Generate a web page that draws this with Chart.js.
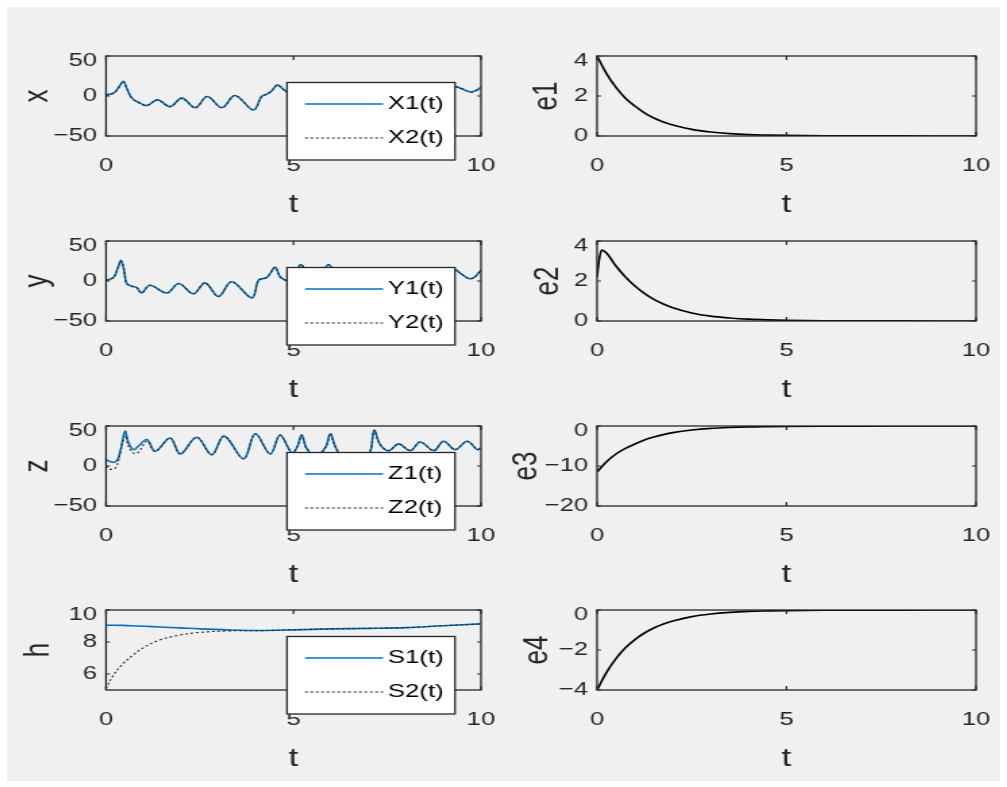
<!DOCTYPE html>
<html>
<head>
<meta charset="utf-8">
<script src="https://cdn.jsdelivr.net/npm/chart.js@4/dist/chart.umd.min.js"></script>
<style>
  html, body { margin: 0; padding: 0; background: #ffffff; }
  #fig { position: absolute; left: 7px; top: 7px; width: 993px; height: 774px; background: #f0f0f0; }
  .panel { position: absolute; }
  .panel canvas { transform-origin: 0 0; display: block; }
</style>
</head>
<body>
<div id="fig"></div>
<script>
// ---- tick labels ----
const tTicks = [0, 5, 10];
const xyzTicks = [-50, 0, 50];
const hTicks = [6, 8, 10];
const e12Ticks = [0, 2, 4];
const e3Ticks = [-20, -10, 0];
const e4Ticks = [-4, -2, 0];

// ---- x: drive (X1) and response (X2) ----
const tX = [0, 0.2, 0.33, 0.46, 0.55, 0.69, 0.91, 1.09, 1.37, 1.71, 2.02, 2.38, 2.70, 3.09, 3.44, 3.93, 4.15, 4.29, 4.42, 4.56, 4.64, 4.78,
            5.0, 5.3, 5.7, 6.0, 6.4, 6.8, 7.1, 7.5, 7.9, 8.2, 8.6, 8.9, 9.1, 9.31, 9.49, 9.72, 9.85, 10];
const X1 = [1.5, 3.6, 10, 18.4, 10, -2.7, -9, -12, -4.9, -13.3, -2.7, -14.6, -0.6, -14.6, 0.6, -17.5, -0.6, 2.3, 6.5, 14, 12, 6.5,
            1, 8, -4, 10, -6, 12, 2, 13, -3, 11, 4, 12, 13, 12, 9, 4.9, 6.5, 10.8];
const X2 = [1.0, 3.4, 10, 18.2, 10, -2.7, -9, -12, -4.9, -13.3, -2.7, -14.6, -0.6, -14.6, 0.6, -17.5, -0.6, 2.3, 6.5, 14, 12, 6.5,
            1, 8, -4, 10, -6, 12, 2, 13, -3, 11, 4, 12, 13, 12, 9, 4.9, 6.5, 10.8];

// ---- y: drive (Y1) and response (Y2) ----
const tY = [0, 0.2, 0.33, 0.40, 0.48, 0.55, 0.69, 0.82, 0.95, 1.17, 1.62, 1.94, 2.33, 2.64, 3.0, 3.35, 3.89, 4.07, 4.29, 4.51, 4.64, 4.78,
            4.95, 5.2, 5.45, 5.7, 5.93, 6.2, 6.6, 7.0, 7.4, 7.8, 8.2, 8.6, 9.0, 9.31, 9.45, 9.67, 9.82, 10];
const Y1 = [1, 4.5, 18, 25.7, 13.8, -3.2, -6.6, -8.3, -15, -5.3, -15, -3.2, -16, -2.3, -19.4, -1, -21, 1, 4.5, 17, 5.3, 1,
            -2, 20.5, 0, 2, 20.5, 3, -12, 8, -14, 6, -12, 10, 2, 13.8, 9.6, 3.2, 4.5, 13.8];
const Y2 = [0.5, 4.2, 17.5, 25.4, 13.8, -3.2, -6.6, -8.3, -15, -5.3, -15, -3.2, -16, -2.3, -19.4, -1, -21, 1, 4.5, 17, 5.3, 1,
            -2, 20.5, 0, 2, 20.5, 3, -12, 8, -14, 6, -12, 10, 2, 13.8, 9.6, 3.2, 4.5, 13.8];

// ---- z: drive (Z1) and response (Z2) ----
const tZ = [0, 0.1, 0.24, 0.33, 0.42, 0.51, 0.6, 0.73, 0.86, 1.09, 1.31, 1.71, 1.98, 2.42, 2.82, 3.15, 3.67, 3.98, 4.38, 4.64, 4.96,
            5.1, 5.22, 5.35, 5.6, 5.86, 5.98, 6.1, 6.25, 6.6, 6.85, 7.05, 7.15, 7.31, 7.54, 7.80, 8.11, 8.38, 8.74, 9.0, 9.31, 9.63, 9.9, 10];
const Z1 = [7.8, 5.7, 4.9, 10, 26.8, 43.7, 29, 20.5, 24.7, 33, 18.4, 35, 15, 36, 14, 37.3, 9, 40.3, 15, 38.6, 16.2,
            24, 38.6, 22, 12, 24, 40.3, 26, 14, 8, 6, 18.4, 44.5, 26.8, 19.2, 27.6, 19.2, 30, 19.2, 31, 20.5, 31, 20.5, 22.6];
const Z2 = [0, -4, -3, 6, 25, 38, 25, 16, 17, 31, 18.4, 35, 15, 36, 14, 37.3, 9, 40.3, 15, 38.6, 16.2,
            24, 38.6, 22, 12, 24, 40.3, 26, 14, 8, 6, 18.4, 44.5, 26.8, 19.2, 27.6, 19.2, 30, 19.2, 31, 20.5, 31, 20.5, 22.6];

// ---- h: drive (S1) and response (S2) ----
const tH = [0, 0.2, 0.42, 0.69, 1.04, 1.44, 1.98, 2.51, 3.22, 4.11, 5, 6, 7, 8, 9, 10];
const S1 = [9.05, 9.05, 9.04, 9.02, 8.98, 8.94, 8.88, 8.82, 8.76, 8.72, 8.76, 8.82, 8.85, 8.9, 9.02, 9.13];
const S2 = [5.1, 5.94, 6.56, 7.13, 7.71, 8.13, 8.44, 8.6, 8.69, 8.71, 8.76, 8.82, 8.85, 8.9, 9.02, 9.13];

// ---- synchronization errors ----
const tE = [0, 0.25, 0.5, 0.75, 1, 1.25, 1.5, 1.75, 2, 2.5, 3, 3.5, 4, 4.5, 5, 6, 7, 8, 9, 10];
const E1 = [4, 3.12, 2.43, 1.89, 1.5, 1.16, 0.9, 0.7, 0.55, 0.33, 0.2, 0.12, 0.07, 0.045, 0.027, 0.01, 0.004, 0.002, 0.001, 0];
const tE2 = [0, 0.05, 0.12, 0.25, 0.5, 0.75, 1, 1.25, 1.5, 1.75, 2, 2.5, 3, 3.5, 4, 4.5, 5, 6, 7, 8, 9, 10];
const E2 = [2.2, 3.0, 3.55, 3.4, 2.75, 2.2, 1.75, 1.38, 1.08, 0.85, 0.66, 0.4, 0.24, 0.15, 0.09, 0.055, 0.033, 0.012, 0.005, 0.002, 0.001, 0];
const E3 = [-11.5, -8.95, -7.0, -5.6, -4.5, -3.5, -2.75, -2.15, -1.65, -1.0, -0.6, -0.37, -0.22, -0.14, -0.08, -0.03, -0.01, -0.005, -0.002, 0];
const E4 = [-4, -3.12, -2.43, -1.89, -1.48, -1.15, -0.9, -0.7, -0.55, -0.33, -0.2, -0.12, -0.07, -0.045, -0.027, -0.01, -0.004, -0.002, -0.001, 0];

// ---- figure layout (page pixels) ----
const STRETCH = 1.35;          // horizontal aspect of the figure window
const ROW_TOP = [56, 241, 426, 610];
const PLOT_H = 80;
const PAD_TOP = 16;
const CANVAS_H = 180;
const COLS = [
  { left: 0,   width: 500, plotL: 106, plotR: 481 },
  { left: 500, width: 507, plotL: 597, plotR: 976 }
];
const FONT = "'Liberation Sans', Arial, Helvetica, sans-serif";
const AX = '#262626';
const BLUE = '#0072BD';
const DOT = '#262626';

const TICK_SIZE = 19, TITLE_SIZE = 26, LEGEND_SIZE = 19;
const TOP_LABEL_DROP = 5;      // topmost y tick label sits just inside the box top

const fmt = v => (v < 0 ? '\u2212' + Math.abs(v) : String(v));

function solid(label, t, v) {
  return { label, t, v, color: BLUE, width: 1.6, dash: [], order: 2 };
}
function dotted(label, t, v) {
  return { label, t, v, color: DOT, width: 1.1, dash: [2, 2], order: 1 };
}
function black(label, t, v) {
  return { label, t, v, color: '#000000', width: 1.7, dash: [], order: 1 };
}

const panels = [
  { row: 0, col: 0, ylabel: 'x', min: -50, max: 50, ticks: xyzTicks, titleX: 37, legend: true,
    series: [solid('X1(t)', tX, X1), dotted('X2(t)', tX, X2)] },
  { row: 1, col: 0, ylabel: 'y', min: -50, max: 50, ticks: xyzTicks, titleX: 37, legend: true,
    series: [solid('Y1(t)', tY, Y1), dotted('Y2(t)', tY, Y2)] },
  { row: 2, col: 0, ylabel: 'z', min: -50, max: 50, ticks: xyzTicks, titleX: 37, legend: true,
    series: [solid('Z1(t)', tZ, Z1), dotted('Z2(t)', tZ, Z2)] },
  { row: 3, col: 0, ylabel: 'h', min: 5, max: 10, ticks: hTicks, titleX: 38.5, legend: true,
    series: [solid('S1(t)', tH, S1), dotted('S2(t)', tH, S2)] },
  { row: 0, col: 1, ylabel: 'e1', min: 0, max: 4, ticks: e12Ticks, titleX: 547, legend: false,
    series: [black('e1', tE, E1)] },
  { row: 1, col: 1, ylabel: 'e2', min: 0, max: 4, ticks: e12Ticks, titleX: 548, legend: false,
    series: [black('e2', tE2, E2)] },
  { row: 2, col: 1, ylabel: 'e3', min: -20, max: 0, ticks: e3Ticks, titleX: 527, legend: false,
    series: [black('e3', tE, E3)] },
  { row: 3, col: 1, ylabel: 'e4', min: -4, max: 0, ticks: e4Ticks, titleX: 538, legend: false,
    series: [black('e4', tE, E4)] }
];

// axes box with inward tick marks on all four sides
const framePlugin = {
  id: 'frame',
  beforeDraw(chart) {
    // nudge the topmost y tick label down so it sits inside the box height
    const y = chart.scales.y;
    const items = y.getLabelItems(chart.chartArea);
    items.forEach((it, i) => {
      if (y.ticks[i] && y.ticks[i].value === y.max) it.options.translation[1] += TOP_LABEL_DROP;
    });
  },
  afterDatasetsDraw(chart, args, opts) {
    const { ctx, chartArea: a, scales } = chart;
    const sx = opts.sx;
    ctx.save();
    ctx.strokeStyle = AX;
    ctx.lineWidth = 1.3;
    ctx.strokeRect(a.left, a.top, a.right - a.left, a.bottom - a.top);
    ctx.lineWidth = 1.2;
    ctx.beginPath();
    const tl = 4;
    scales.x.ticks.forEach(tk => {
      const px = scales.x.getPixelForValue(tk.value);
      ctx.moveTo(px, a.bottom); ctx.lineTo(px, a.bottom - tl);
      ctx.moveTo(px, a.top); ctx.lineTo(px, a.top + tl);
    });
    scales.y.ticks.forEach(tk => {
      const py = scales.y.getPixelForValue(tk.value);
      ctx.moveTo(a.left, py); ctx.lineTo(a.left + tl / sx, py);
      ctx.moveTo(a.right, py); ctx.lineTo(a.right - tl / sx, py);
    });
    ctx.stroke();
    ctx.restore();
  }
};

// boxed legend placed below-right, overlapping the axes like the figure's legend
const boxLegendPlugin = {
  id: 'boxLegend',
  afterDraw(chart, args, o) {
    if (!o.show) return;
    const ctx = chart.ctx;
    const sx = o.sx;
    const x0 = o.left / sx, x1 = o.right / sx;
    ctx.save();
    ctx.fillStyle = '#ffffff';
    ctx.fillRect(x0, o.top, x1 - x0, o.bottom - o.top);
    ctx.strokeStyle = AX;
    ctx.lineWidth = 1.3;
    ctx.strokeRect(x0, o.top, x1 - x0, o.bottom - o.top);
    chart.data.datasets.forEach((ds, i) => {
      const y = o.rows[i];
      ctx.strokeStyle = ds.borderColor;
      ctx.lineWidth = ds.borderWidth;
      ctx.setLineDash(ds.borderDash || []);
      ctx.beginPath();
      ctx.moveTo(o.lineFrom / sx, y);
      ctx.lineTo(o.lineTo / sx, y);
      ctx.stroke();
      ctx.setLineDash([]);
      ctx.fillStyle = '#000000';
      ctx.font = LEGEND_SIZE + 'px ' + FONT;
      ctx.textBaseline = 'middle';
      ctx.textAlign = 'left';
      ctx.fillText(ds.label, o.textX / sx, y);
    });
    ctx.restore();
  }
};

panels.forEach(p => {
  const col = COLS[p.col];
  const cw = Math.round(col.width / STRETCH);
  const sx = col.width / cw;
  const wrap = document.createElement('div');
  wrap.className = 'panel';
  wrap.style.left = col.left + 'px';
  wrap.style.top = (ROW_TOP[p.row] - PAD_TOP) + 'px';
  const cv = document.createElement('canvas');
  cv.width = cw;
  cv.height = CANVAS_H;
  cv.style.width = cw + 'px';
  cv.style.height = CANVAS_H + 'px';
  cv.style.transform = 'scaleX(' + sx + ')';
  wrap.appendChild(cv);
  document.body.appendChild(wrap);

  const titleHalf = TITLE_SIZE * 1.2 / 2;
  const datasets = p.series.map(s => ({
    label: s.label,
    data: s.t.map((t, i) => ({ x: t, y: s.v[i] })),
    borderColor: s.color,
    borderWidth: s.width,
    borderDash: s.dash,
    pointRadius: 0,
    fill: false,
    tension: 0.35,
    order: s.order
  }));
  if (!p.legend) datasets.forEach(d => { d.cubicInterpolationMode = 'monotone'; });

  new Chart(cv, {
    type: 'line',
    data: { datasets },
    options: {
      responsive: false,
      animation: false,
      devicePixelRatio: 1,
      events: [],
      layout: { padding: { top: PAD_TOP, left: 0, bottom: 0, right: (col.left + col.width - col.plotR) / sx } },
      plugins: {
        legend: { display: false },
        tooltip: { enabled: false },
        frame: { sx },
        boxLegend: {
          show: p.legend, sx,
          left: 287 - col.left, right: 455 - col.left,
          top: PAD_TOP + 26.5, bottom: PAD_TOP + 104,
          rows: [PAD_TOP + 48, PAD_TOP + 82],
          lineFrom: 305 - col.left, lineTo: 383 - col.left, textX: 388 - col.left
        }
      },
      scales: {
        x: {
          type: 'linear', min: 0, max: 10,
          grid: { display: false, drawTicks: false },
          border: { display: false },
          afterBuildTicks: s => { s.ticks = tTicks.map(v => ({ value: v })); },
          afterFit: s => { s.height = CANVAS_H - PAD_TOP - PLOT_H; s.paddingLeft = 0; s.paddingRight = 0; },
          ticks: { padding: 18, autoSkip: false, maxRotation: 0, color: AX, callback: fmt,
                   font: { family: FONT, size: TICK_SIZE } },
          title: { display: true, text: 't', color: AX, font: { family: FONT, size: TITLE_SIZE }, padding: { top: 0, bottom: 0 } }
        },
        y: {
          type: 'linear', min: p.min, max: p.max,
          grid: { display: false, drawTicks: false },
          border: { display: false },
          afterBuildTicks: s => { s.ticks = p.ticks.map(v => ({ value: v })); },
          afterFit: s => { s.width = (col.plotL - col.left) / sx; s.paddingTop = 0; s.paddingBottom = 0; },
          ticks: { padding: 9 / sx, autoSkip: false, color: AX, callback: fmt,
                   font: { family: FONT, size: TICK_SIZE } },
          title: { display: true, text: p.ylabel, color: AX, font: { family: FONT, size: TITLE_SIZE },
                   padding: { top: (p.titleX - col.left) / sx - titleHalf, bottom: 0 } }
        }
      }
    },
    plugins: [framePlugin, boxLegendPlugin]
  });
});
</script>
</body>
</html>
